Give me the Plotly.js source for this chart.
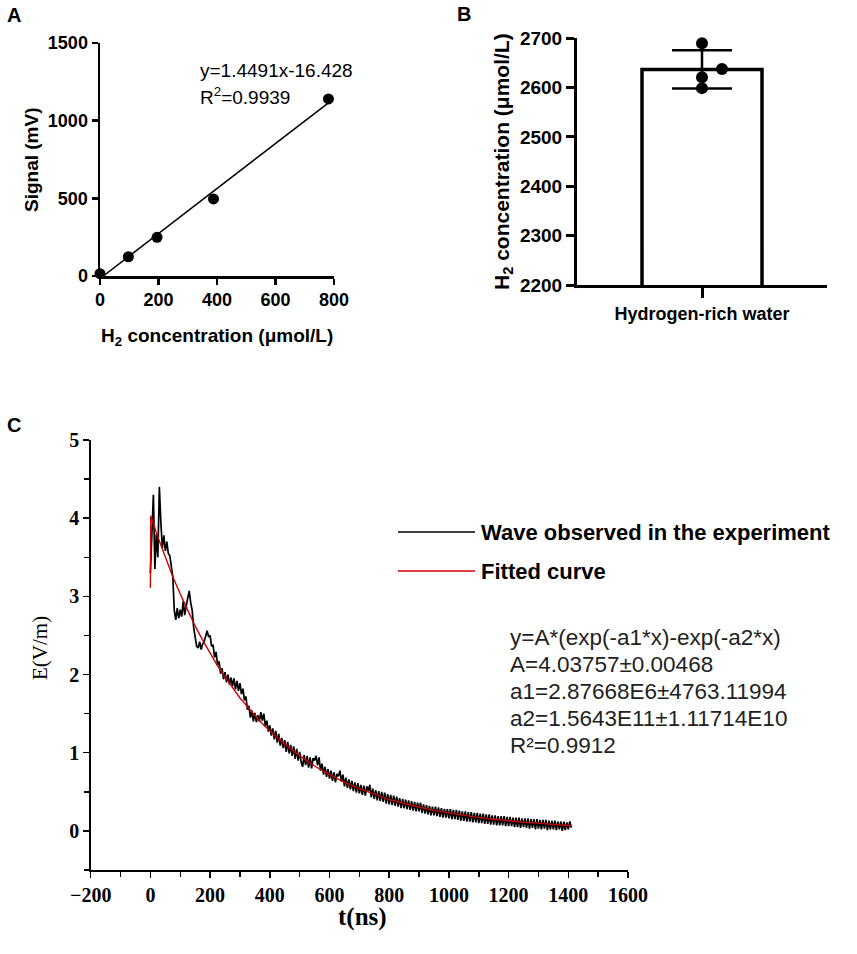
<!DOCTYPE html>
<html>
<head>
<meta charset="utf-8">
<script src="https://cdn.plot.ly/plotly-3.0.1.min.js"></script>
<style>html,body{margin:0;padding:0;background:#fff;}#chart{width:857px;height:954px;}</style>
</head>
<body>
<div id="chart"></div>
<script>
// ---------- Panel A: calibration ----------
const concA = [0, 97, 195, 388, 781];
const signalA = [15, 124, 249, 496, 1140];
const fitLineAx = [11.3, 781];
const fitLineAy = [0, 1115];
const ticksAx = [0, 200, 400, 600, 800];
const ticksAy = [0, 500, 1000, 1500];

// ---------- Panel B: bar with points ----------
const categoriesB = ["Hydrogen-rich water"];
const meanB = [2637];
const sdB = [38.6];
const pointsB = [2690, 2638, 2621, 2599];
const pointsBx = [0, 0.08, 0, 0];   // jitter positions around category 0
const ticksBy = [2200, 2300, 2400, 2500, 2600, 2700];

// ---------- Panel C: waveform (sampled every 5 ns from 0 ns) ----------
const waveStart = 0;
const waveStep = 5;
const waveE = [
 3.30, 3.95, 4.30, 3.35, 3.80, 3.50, 4.40, 3.95, 3.62, 3.78,
 3.58, 3.70, 3.55, 3.52, 3.34, 3.25, 2.82, 2.70, 2.85, 2.72,
 2.83, 2.74, 2.94, 2.76, 2.88, 2.96, 3.07, 2.92, 2.82, 2.60,
 2.45, 2.36, 2.34, 2.42, 2.32, 2.39, 2.42, 2.50, 2.56, 2.48,
 2.50, 2.36, 2.38, 2.22, 2.29, 2.12, 2.17, 2.01, 2.08, 1.94,
 2.03, 1.90, 2.00, 1.87, 1.96, 1.85, 1.95, 1.81, 1.92, 1.79,
 1.89, 1.75, 1.82, 1.67, 1.72, 1.55, 1.60, 1.45, 1.54, 1.40,
 1.51, 1.39, 1.48, 1.40, 1.52, 1.41, 1.50, 1.34, 1.41, 1.27,
 1.35, 1.22, 1.31, 1.17, 1.28, 1.13, 1.24, 1.09, 1.19, 1.06,
 1.16, 1.01, 1.14, 0.99, 1.10, 0.96, 1.08, 0.92, 1.05, 0.90,
 1.01, 0.88, 0.82, 0.97, 0.84, 0.96, 0.81, 0.94, 0.80, 0.93,
 0.90, 0.96, 0.84, 0.94, 0.77, 0.86, 0.72, 0.82, 0.69, 0.79,
 0.67, 0.77, 0.64, 0.75, 0.62, 0.73, 0.70, 0.77, 0.63, 0.72,
 0.57, 0.68, 0.55, 0.66, 0.53, 0.64, 0.51, 0.62, 0.49, 0.61,
 0.48, 0.59, 0.46, 0.58, 0.45, 0.57, 0.51, 0.59, 0.43, 0.54,
 0.41, 0.52, 0.39, 0.51, 0.38, 0.50, 0.37, 0.49, 0.35, 0.47,
 0.34, 0.46, 0.33, 0.45, 0.32, 0.44, 0.31, 0.42, 0.29, 0.41,
 0.29, 0.40, 0.28, 0.39, 0.27, 0.38, 0.26, 0.37, 0.25, 0.36,
 0.25, 0.36, 0.23, 0.34, 0.22, 0.33, 0.21, 0.32, 0.20, 0.31,
 0.20, 0.31, 0.19, 0.30, 0.18, 0.29, 0.17, 0.28, 0.17, 0.28,
 0.16, 0.28, 0.15, 0.27, 0.15, 0.27, 0.14, 0.26, 0.13, 0.25,
 0.13, 0.25, 0.12, 0.24, 0.12, 0.24, 0.11, 0.23, 0.11, 0.23,
 0.10, 0.22, 0.10, 0.22, 0.09, 0.21, 0.09, 0.21, 0.08, 0.20,
 0.08, 0.20, 0.07, 0.19, 0.07, 0.19, 0.07, 0.19, 0.06, 0.18,
 0.06, 0.18, 0.06, 0.17, 0.05, 0.17, 0.05, 0.17, 0.04, 0.16,
 0.05, 0.16, 0.04, 0.16, 0.03, 0.15, 0.04, 0.15, 0.02, 0.15,
 0.03, 0.14, 0.02, 0.14, 0.03, 0.14, 0.01, 0.13, 0.02, 0.13,
 0.02, 0.13, 0.01, 0.12, 0.02, 0.12, 0.00, 0.12, 0.01, 0.11,
 0.02, 0.12, 0.04
];
const fitT = [0, 1, 25, 50, 75, 100, 125, 150, 175, 200, 225, 250, 275, 300, 325, 350, 375, 400,
  450, 500, 550, 600, 650, 700, 750, 800, 850, 900, 950, 1000, 1050, 1100, 1150, 1200, 1250, 1300, 1350, 1400, 1410];
const fitE = [3.11, 4.03, 3.76, 3.50, 3.25, 3.03, 2.82, 2.62, 2.44, 2.27, 2.11, 1.97, 1.83, 1.70, 1.59, 1.48, 1.37, 1.28,
  1.11, 0.96, 0.83, 0.72, 0.62, 0.54, 0.47, 0.40, 0.35, 0.30, 0.26, 0.23, 0.20, 0.17, 0.15, 0.13, 0.11, 0.10, 0.08, 0.07, 0.07];
const legendC = ["Wave observed in the experiment", "Fitted curve"];
const fitTextC = ["y=A*(exp(-a1*x)-exp(-a2*x)", "A=4.03757±0.00468", "a1=2.87668E6±4763.11994",
  "a2=1.5643E11±1.11714E10", "R²=0.9912"];

// ---------- layout helpers (pixel -> paper) ----------
const W = 857, H = 954;
const px = v => v / W;
const py = v => 1 - v / H;

const sans = "Liberation Sans, Arial, sans-serif";
const serif = "Liberation Serif, Times New Roman, serif";

const traces = [
  {x: concA, y: signalA, xaxis: 'x', yaxis: 'y', mode: 'markers', type: 'scatter',
   marker: {color: '#000', size: 11}, cliponaxis: false, hoverinfo: 'skip'},
  {x: fitLineAx, y: fitLineAy, xaxis: 'x', yaxis: 'y', mode: 'lines', type: 'scatter',
   line: {color: '#000', width: 1.5}, hoverinfo: 'skip'},
  {x: [0], y: meanB, xaxis: 'x2', yaxis: 'y2', type: 'bar', width: 0.48,
   marker: {color: '#fff', line: {color: '#000', width: 3.5}},
   error_y: {type: 'data', array: sdB, visible: true, color: '#000', thickness: 2.5, width: 30},
   hoverinfo: 'skip'},
  {x: pointsBx, y: pointsB, xaxis: 'x2', yaxis: 'y2', mode: 'markers', type: 'scatter',
   marker: {color: '#000', size: 12}, cliponaxis: false, hoverinfo: 'skip'},
  {y: waveE, x0: waveStart, dx: waveStep, xaxis: 'x3', yaxis: 'y3', mode: 'lines', type: 'scatter',
   line: {color: '#000', width: 1.7}, hoverinfo: 'skip'},
  {x: fitT, y: fitE, xaxis: 'x3', yaxis: 'y3', mode: 'lines', type: 'scatter',
   line: {color: '#d00000', width: 1.4}, hoverinfo: 'skip'}
];

const axBase = {showgrid: false, zeroline: false, showline: true, linecolor: '#000', ticks: 'outside', tickcolor: '#000'};

const layout = {
  width: W, height: H, margin: {l: 0, r: 0, t: 0, b: 0},
  paper_bgcolor: '#fff', plot_bgcolor: '#fff', showlegend: false,
  xaxis: Object.assign({}, axBase, {domain: [px(100), px(334)], range: [0, 800], tickvals: ticksAx,
    linewidth: 2.5, tickwidth: 2.5, ticklen: 6, anchor: 'y',
    tickfont: {family: sans, size: 18, color: '#000', weight: 'bold'}}),
  yaxis: Object.assign({}, axBase, {domain: [py(276), py(43)], range: [0, 1500], tickvals: ticksAy,
    linewidth: 2.5, tickwidth: 2.5, ticklen: 6, anchor: 'x',
    tickfont: {family: sans, size: 18, color: '#000', weight: 'bold'}}),
  xaxis2: Object.assign({}, axBase, {domain: [px(577), px(827)], range: [-0.5, 0.5], tickvals: [0], ticktext: categoriesB,
    linewidth: 3, tickwidth: 3, ticklen: 10, anchor: 'y2',
    tickfont: {family: sans, size: 18, color: '#000', weight: 'bold'}}),
  yaxis2: Object.assign({}, axBase, {domain: [py(285), py(38.3)], range: [2200, 2700], tickvals: ticksBy,
    linewidth: 3, tickwidth: 3, ticklen: 8, anchor: 'x2',
    tickfont: {family: sans, size: 19, color: '#000', weight: 'bold'}}),
  xaxis3: Object.assign({}, axBase, {domain: [px(90.7), px(628)], range: [-200, 1600], dtick: 200, tick0: 0,
    linewidth: 1.5, tickwidth: 1.5, ticklen: 6, anchor: 'y3',
    minor: {dtick: 100, tick0: 0, ticks: 'outside', ticklen: 5, tickwidth: 1.5, tickcolor: '#000', showgrid: false},
    tickfont: {family: serif, size: 20, color: '#000', weight: 'bold'}}),
  yaxis3: Object.assign({}, axBase, {domain: [py(870), py(440)], range: [-0.5, 5], dtick: 1, tick0: 0,
    linewidth: 1.5, tickwidth: 1.5, ticklen: 6, anchor: 'x3',
    minor: {dtick: 0.5, tick0: 0, ticks: 'outside', ticklen: 5, tickwidth: 1.5, tickcolor: '#000', showgrid: false},
    tickfont: {family: serif, size: 20, color: '#000', weight: 'bold'}}),
  shapes: [
    {type: 'line', xref: 'paper', yref: 'paper', x0: px(398), x1: px(475), y0: py(532), y1: py(532),
     line: {color: '#000', width: 1.5}},
    {type: 'line', xref: 'paper', yref: 'paper', x0: px(398), x1: px(475), y0: py(571), y1: py(571),
     line: {color: '#d00000', width: 1.5}}
  ],
  annotations: []
};

function ann(text, x, y, size, opts) {
  layout.annotations.push(Object.assign({
    text: text, xref: 'paper', yref: 'paper', x: px(x), y: py(y), showarrow: false,
    xanchor: 'center', yanchor: 'middle',
    font: {family: sans, size: size, color: '#000'}
  }, opts || {}));
}
const bold = (fam, size) => ({font: {family: fam, size: size, color: '#000', weight: 'bold'}});

// panel letters
ann('A', 14, 15, 20, bold(sans, 20));
ann('B', 464, 14, 20, bold(sans, 20));
ann('C', 14, 425, 20, bold(sans, 20));
// panel A texts
ann('y=1.4491x-16.428', 198, 70, 19, {xanchor: 'left'});
ann('R<sup>2</sup>=0.9939', 198, 96, 19, {xanchor: 'left'});
ann('Signal (mV)', 32, 159, 19, Object.assign({textangle: -90}, bold(sans, 19)));
ann('H<sub>2</sub> concentration (μmol/L)', 217, 337, 19, bold(sans, 19));
// panel B texts
ann('H<sub>2</sub> concentration (μmol/L)', 503, 162, 21, Object.assign({textangle: -90}, bold(sans, 21)));
// panel C texts
ann('E(V/m)', 40, 648, 21, {textangle: -90, font: {family: serif, size: 21, color: '#000'}});
ann('t(ns)', 362, 917, 25, bold(serif, 25));
ann(legendC[0], 479, 532, 22, Object.assign({xanchor: 'left'}, bold(sans, 22)));
ann(legendC[1], 479, 571, 22, Object.assign({xanchor: 'left'}, bold(sans, 22)));
fitTextC.forEach((t, i) => ann(t, 508, 637 + i * 27.2, 22.5, {xanchor: 'left', font: {family: sans, size: 22.5, color: '#222'}}));

Plotly.newPlot('chart', traces, layout, {displayModeBar: false, staticPlot: true});
</script>
</body>
</html>
